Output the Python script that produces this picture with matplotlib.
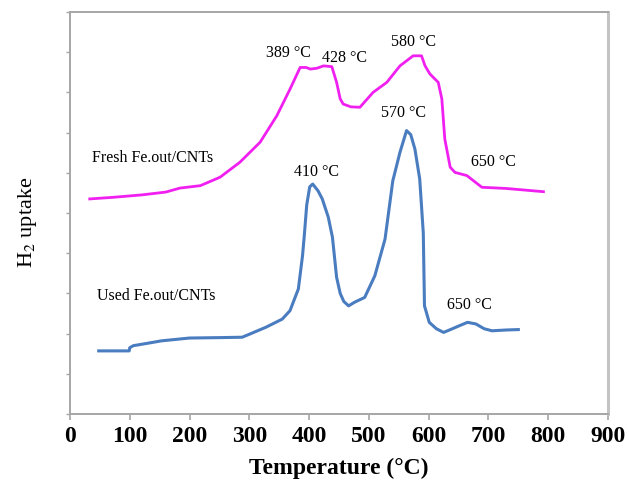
import matplotlib
matplotlib.use("Agg")
import matplotlib.pyplot as plt

# =========================
# Data
# =========================
fresh_temp = [33, 72, 120, 160, 184, 218, 251, 284, 318, 346, 368, 385, 395, 402,
              413, 424, 438, 446, 452, 457, 470, 485, 507, 530, 552, 574, 588, 594,
              602, 616, 622, 627, 636, 644, 664, 689, 730, 792]
fresh_h2 = [5.35, 5.39, 5.45, 5.52, 5.62, 5.68, 5.89, 6.26, 6.76, 7.42, 8.08, 8.62,
            8.62, 8.58, 8.60, 8.66, 8.64, 8.25, 7.84, 7.71, 7.64, 7.63, 8.00, 8.25,
            8.66, 8.91, 8.91, 8.66, 8.46, 8.25, 7.84, 6.84, 6.14, 6.01, 5.93, 5.64,
            5.61, 5.53]

used_temp = [48, 99, 100, 106, 130, 153, 200, 250, 288, 301, 328, 355, 368, 382, 389,
             392, 396, 401, 406, 415, 422, 432, 439, 446, 452, 458, 466, 476, 493, 510,
             527, 540, 552, 563, 570, 577, 585, 588, 591, 593, 601, 613, 625, 638, 652,
             665, 679, 693, 706, 730, 750]
used_h2 = [1.57, 1.57, 1.65, 1.70, 1.76, 1.82, 1.89, 1.90, 1.91, 1.99, 2.16, 2.36,
           2.57, 3.11, 3.94, 4.45, 5.20, 5.65, 5.72, 5.55, 5.35, 4.90, 4.40, 3.40,
           3.00, 2.80, 2.69, 2.78, 2.90, 3.44, 4.35, 5.80, 6.51, 7.05, 6.95, 6.59,
           5.85, 5.18, 4.50, 2.69, 2.28, 2.12, 2.03, 2.11, 2.20, 2.28, 2.24, 2.12,
           2.07, 2.09, 2.10]

peak_labels = ["389 °C", "428 °C", "580 °C", "650 °C", "410 °C", "570 °C", "650 °C"]
peak_x = [366, 460, 574, 709, 412, 558, 669]
peak_y = [9.00, 8.89, 9.27, 6.30, 6.05, 7.52, 2.74]

sample_labels = ["Fresh Fe.out/CNTs", "Used Fe.out/CNTs"]
sample_x = [37, 45]
sample_y = [6.39, 2.96]

x_ticks = list(range(0, 1000, 100))
y_ticks = list(range(0, 11))

# =========================
# Style
# =========================
plt.rcParams.update({
    "font.family": ["Liberation Serif", "DejaVu Serif"],
    "mathtext.fontset": "stix",
})

spine_color = "#a6a6a6"

fig = plt.figure(figsize=(6.29, 4.81), dpi=100)
ax = fig.add_axes([0.1113, 0.1372, 0.8553, 0.8358])

ax.plot(fresh_temp, fresh_h2, color="#f020f0", lw=2.0)
ax.plot(used_temp, used_h2, color="#4a7cc0", lw=2.2)

for txt, x, y in zip(peak_labels, peak_x, peak_y):
    ax.text(x, y, txt, ha="center", va="center", fontsize=11.5)

for txt, x, y in zip(sample_labels, sample_x, sample_y):
    ax.text(x, y, txt, ha="left", va="center", fontsize=11.5)

ax.set_xlim(0, 900)
ax.set_ylim(0, 10)
ax.set_xticks(x_ticks)
ax.set_xticklabels([str(t) for t in x_ticks], fontsize=17, fontweight="bold")
ax.set_yticks(y_ticks)
ax.set_yticklabels([])

ax.tick_params(axis="x", direction="out", length=4, width=1.2,
               color=spine_color, pad=4)
ax.tick_params(axis="y", direction="out", length=3, width=1.0,
               color=spine_color)

for side in ["left", "bottom", "top"]:
    ax.spines[side].set_color(spine_color)
    ax.spines[side].set_linewidth(1.4)
ax.spines["right"].set_color("#c4c4c4")
ax.spines["right"].set_linewidth(2.2)

ax.set_xlabel("Temperature (°C)", fontsize=17, fontweight="bold", labelpad=8)
ax.set_ylabel("H$_2$ uptake", fontsize=16)
ax.yaxis.set_label_coords(-0.057, 0.48)

fig.savefig("out.png", dpi=100)
